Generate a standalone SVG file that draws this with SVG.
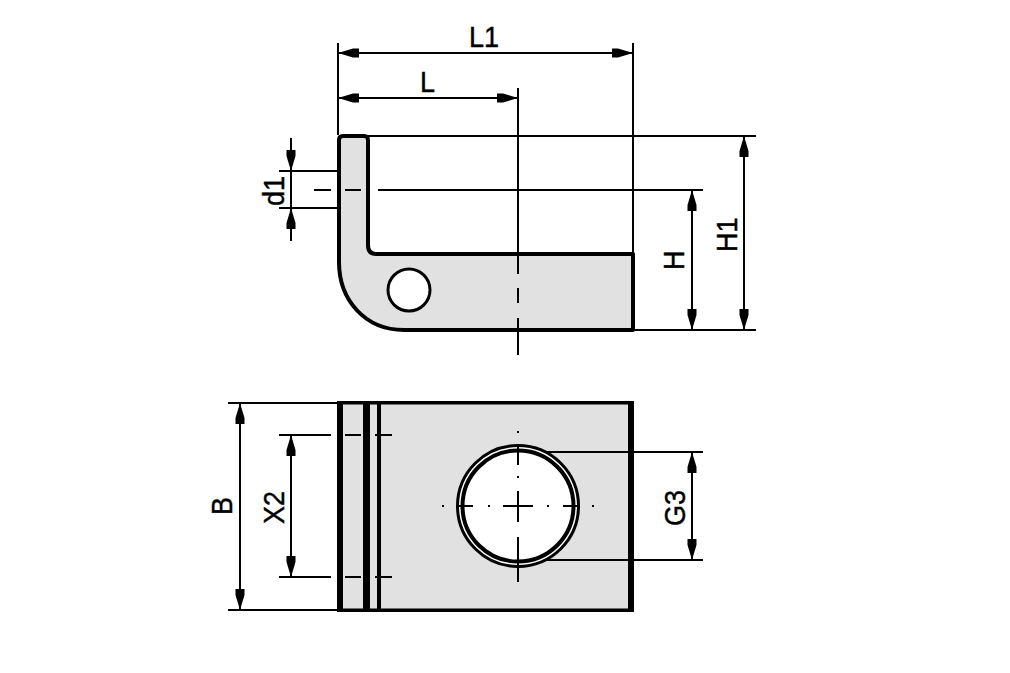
<svg xmlns="http://www.w3.org/2000/svg" width="1010" height="673" viewBox="0 0 1010 673">
<style>
.part{fill:#e1e1e1;stroke:#000;stroke-width:4;stroke-linejoin:round}
.thin{fill:none;stroke:#000;stroke-width:2;shape-rendering:crispEdges}
.hole{fill:#fff;stroke:#000;stroke-width:3}
.bar{fill:#000;stroke:none}
text{font-family:"Liberation Sans",Arial,sans-serif;font-size:27px;fill:#000;stroke:#000;stroke-width:.4}
</style>
<defs>
<polygon id="ah" points="0,0 -15,-4.5 -21,-4.5 -21,4.5 -15,4.5" fill="#000"/>
</defs>
<rect width="1010" height="673" fill="#fff"/>
<g id="side-view">
<path class="part" d="M339 140Q339 136 343 136H364Q368 136 368 140V245Q368 254 376 254H633V330H404C365 330 339 300 339 262Z"/>
<circle class="hole" cx="409" cy="290" r="21"/>
</g>
<g id="plan-view">
<rect x="338" y="403" width="296" height="207" fill="#e1e1e1"/>
<rect class="bar" x="337" y="401" width="297" height="3.5"/>
<rect class="bar" x="337" y="608.5" width="297" height="3.5"/>
<rect class="bar" x="337" y="401" width="6" height="211"/>
<rect class="bar" x="363" y="401" width="7" height="211"/>
<rect class="bar" x="377" y="401" width="4" height="211"/>
<rect class="bar" x="628" y="401" width="6" height="211"/>
<circle cx="518" cy="506" r="59" fill="#fff"/>
<circle cx="518" cy="506" r="60.5" fill="none" stroke="#000" stroke-width="3"/>
<circle cx="518" cy="506" r="55.5" fill="none" stroke="#000" stroke-width="4"/>
</g>
<g id="connectors">
<path class="thin" d="M338 43V135M633 43V254M518 88V274M518 288V303M518 318V355"/>
<path class="thin" d="M338 53H633M338 98H518"/>
<path class="thin" d="M368 136H756M634 330H756M378 190H703M345 190H361M314 190H331"/>
<path class="thin" d="M279 171H337M279 208H337M291 138V241"/>
<path class="thin" d="M692 190V330M744 136V330"/>
<path class="thin" d="M228 403H338M228 610H338M240 403V610"/>
<path class="thin" d="M279 435H331M345 435H361M375 435H392M279 577H331M345 577H361M375 577H392M291 435V577"/>
<path class="thin" d="M547 452H703M547 560H703M692 452V560"/>
<path class="thin" d="M518 431V433M518 445V465M518 476V478M518 491V522M518 537V582M442 506H444M457 506H473M488 506H490M503 506H533M547 506H549M563 506H580M592 506H594"/>
<use href="#ah" transform="translate(338 53) rotate(180)"/>
<use href="#ah" transform="translate(633 53)"/>
<use href="#ah" transform="translate(338 98) rotate(180)"/>
<use href="#ah" transform="translate(518 98)"/>
<use href="#ah" transform="translate(291 171) rotate(90)"/>
<use href="#ah" transform="translate(291 208) rotate(-90)"/>
<use href="#ah" transform="translate(692 190) rotate(-90)"/>
<use href="#ah" transform="translate(692 330) rotate(90)"/>
<use href="#ah" transform="translate(744 136) rotate(-90)"/>
<use href="#ah" transform="translate(744 330) rotate(90)"/>
<use href="#ah" transform="translate(240 403) rotate(-90)"/>
<use href="#ah" transform="translate(240 610) rotate(90)"/>
<use href="#ah" transform="translate(291 435) rotate(-90)"/>
<use href="#ah" transform="translate(291 577) rotate(90)"/>
<use href="#ah" transform="translate(692 452) rotate(-90)"/>
<use href="#ah" transform="translate(692 560) rotate(90)"/>
</g>
<g id="labels">
<text transform="translate(469 47) scale(1 1.08)">L1</text>
<text transform="translate(420 92) scale(1 1.08)">L</text>
<text transform="translate(284 206) rotate(-90) scale(1 1.08)">d1</text>
<text transform="translate(684 270) rotate(-90) scale(1 1.08)">H</text>
<text transform="translate(737 252) rotate(-90) scale(1 1.08)">H1</text>
<text transform="translate(232 515) rotate(-90) scale(1 1.08)">B</text>
<text transform="translate(284 524) rotate(-90) scale(1 1.08)">X2</text>
<text transform="translate(685 526) rotate(-90) scale(1 1.08)">G3</text>
</g>
</svg>
